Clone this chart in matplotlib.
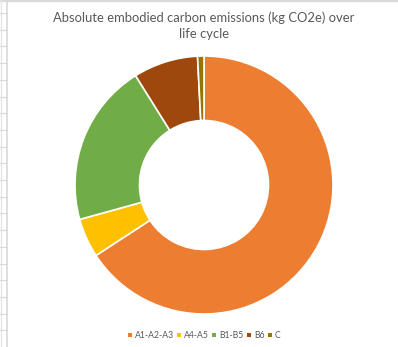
import numpy as np
import matplotlib.pyplot as plt
from matplotlib.patches import Patch
from matplotlib.lines import Line2D

# life cycle stages and their embodied carbon (kg CO2e)
stages = ["A1-A2-A3", "A4-A5", "B1-B5", "B6", "C"]
emissions = [658, 49, 204, 81, 8]
colours = ["#ED7D31", "#FFC000", "#70AD47", "#9E480E", "#997300"]

W, H = 398, 347
fig = plt.figure(figsize=(W / 100, H / 100), dpi=100)
fig.patch.set_facecolor("white")

# spreadsheet row headers down the left edge
bg = fig.add_axes([0, 0, 1, 1])
bg.set_xlim(0, W)
bg.set_ylim(H, 0)
bg.axis("off")
bg.add_line(Line2D([0, W], [0.8, 0.8], color="#d9d9d9", lw=1.6))
bg.add_line(Line2D([6.5, 6.5], [0, H], color="#d9d9d9", lw=1.2))
bg.add_line(Line2D([0.5, 0.5], [0, H], color="#e6e6e6", lw=1.0))
for y in np.arange(13.0, H, 16.7):
    bg.add_line(Line2D([0, 6.5], [y, y], color="#d9d9d9", lw=0.8))

# doughnut
cx, cy, r = 204, 185, 129
ax = fig.add_axes([(cx - r) / W, (H - cy - r) / H, 2 * r / W, 2 * r / H])
ax.pie(emissions, colors=colours, startangle=90, counterclock=False,
       wedgeprops=dict(width=0.5, edgecolor="white", linewidth=1.2))
ax.set_xlim(-1, 1)
ax.set_ylim(-1, 1)
ax.set_aspect("equal")
ax.axis("off")

fig.text(204 / W, 1 - 25.5 / H,
         "Absolute embodied carbon emissions (kg CO2e) over\nlife cycle",
         ha="center", va="center", fontsize=9.4, color="#595959",
         family="Lato", linespacing=1.35)

handles = [Patch(facecolor=c, edgecolor="none") for c in colours]
fig.legend(handles, stages, loc="center", ncol=5,
           bbox_to_anchor=(204 / W, 1 - 335.5 / H), frameon=False,
           handlelength=0.45, handleheight=0.45, handletextpad=0.35,
           columnspacing=0.4, prop=dict(family="Lato", size=6.2),
           labelcolor="#595959", borderaxespad=0, borderpad=0)

fig.savefig("out.png", dpi=100, facecolor="white")
